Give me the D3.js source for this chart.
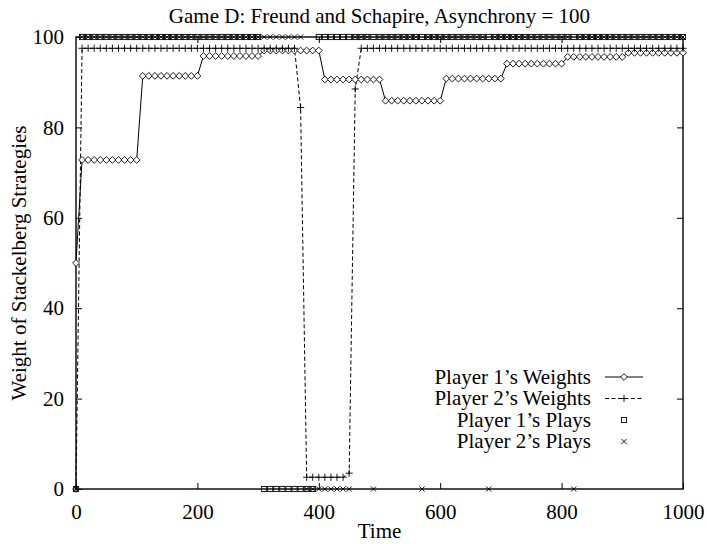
<!DOCTYPE html>
<html>
<head>
<meta charset="utf-8">
<script src="https://cdn.jsdelivr.net/npm/d3@7"></script>
<style>
  @font-face { font-family: "ChartSerif"; src: local("Liberation Serif"), local("LiberationSerif"), local("LiberationSerif-Regular"); }
  body { margin: 0; background: #fff; }
  svg { display: block; }
</style>
</head>
<body>
<svg id="chart" width="707" height="544"></svg>
<script>
// Time steps (sampled every 10 steps)
const times = [
  0, 10, 20, 30, 40, 50, 60, 70, 80, 90,
  100, 110, 120, 130, 140, 150, 160, 170, 180, 190,
  200, 210, 220, 230, 240, 250, 260, 270, 280, 290,
  300, 310, 320, 330, 340, 350, 360, 370, 380, 390,
  400, 410, 420, 430, 440, 450, 460, 470, 480, 490,
  500, 510, 520, 530, 540, 550, 560, 570, 580, 590,
  600, 610, 620, 630, 640, 650, 660, 670, 680, 690,
  700, 710, 720, 730, 740, 750, 760, 770, 780, 790,
  800, 810, 820, 830, 840, 850, 860, 870, 880, 890,
  900, 910, 920, 930, 940, 950, 960, 970, 980, 990,
  1000
];

// Player 1's weight on its Stackelberg strategy (%)
const p1Weights = [
  50,
  72.8, 72.8, 72.8, 72.8, 72.8, 72.8, 72.8, 72.8, 72.8, 72.8,
  91.4, 91.4, 91.4, 91.4, 91.4, 91.4, 91.4, 91.4, 91.4, 91.4,
  95.8, 95.8, 95.8, 95.8, 95.8, 95.8, 95.8, 95.8, 95.8, 95.8,
  97.0, 97.0, 97.0, 97.0, 97.0, 97.0, 97.0, 97.0, 97.0, 97.0,
  90.6, 90.6, 90.6, 90.6, 90.6, 90.6, 90.6, 90.6, 90.6, 90.6,
  85.9, 85.9, 85.9, 85.9, 85.9, 85.9, 85.9, 85.9, 85.9, 85.9,
  90.8, 90.8, 90.8, 90.8, 90.8, 90.8, 90.8, 90.8, 90.8, 90.8,
  94.1, 94.1, 94.1, 94.1, 94.1, 94.1, 94.1, 94.1, 94.1, 94.1,
  95.6, 95.6, 95.6, 95.6, 95.6, 95.6, 95.6, 95.6, 95.6, 95.6,
  96.5, 96.5, 96.5, 96.5, 96.5, 96.5, 96.5, 96.5, 96.5, 96.5
];

// Player 2's weight on its Stackelberg strategy (%)
const p2Weights = [
  0,
  97.5, 97.5, 97.5, 97.5, 97.5, 97.5, 97.5, 97.5, 97.5, 97.5,
  97.5, 97.5, 97.5, 97.5, 97.5, 97.5, 97.5, 97.5, 97.5, 97.5,
  97.5, 97.5, 97.5, 97.5, 97.5, 97.5, 97.5, 97.5, 97.5, 97.5,
  97.5, 97.5, 97.5, 97.5, 97.5, 97.5, 84.4, 2.6, 2.6, 2.6,
  2.6, 2.6, 2.6, 2.6, 3.5, 88.5, 97.5, 97.5, 97.5, 97.5,
  97.5, 97.5, 97.5, 97.5, 97.5, 97.5, 97.5, 97.5, 97.5, 97.5,
  97.5, 97.5, 97.5, 97.5, 97.5, 97.5, 97.5, 97.5, 97.5, 97.5,
  97.5, 97.5, 97.5, 97.5, 97.5, 97.5, 97.5, 97.5, 97.5, 97.5,
  97.5, 97.5, 97.5, 97.5, 97.5, 97.5, 97.5, 97.5, 97.5, 97.5,
  97.5, 97.5, 97.5, 97.5, 97.5, 97.5, 97.5, 97.5, 97.5, 97.5
];

// Whether each player played its Stackelberg strategy (100 = yes, 0 = no)
const p1Plays = [
  0,
  100, 100, 100, 100, 100, 100, 100, 100, 100, 100,
  100, 100, 100, 100, 100, 100, 100, 100, 100, 100,
  100, 100, 100, 100, 100, 100, 100, 100, 100, 100,
  0, 0, 0, 0, 0, 0, 0, 0, 0, 100,
  100, 100, 100, 100, 100, 100, 100, 100, 100, 100,
  100, 100, 100, 100, 100, 100, 100, 100, 100, 100,
  100, 100, 100, 100, 100, 100, 100, 100, 100, 100,
  100, 100, 100, 100, 100, 100, 100, 100, 100, 100,
  100, 100, 100, 100, 100, 100, 100, 100, 100, 100,
  100, 100, 100, 100, 100, 100, 100, 100, 100, 100
];

const p2Plays = [
  0,
  100, 100, 100, 100, 100, 100, 100, 100, 100, 100,
  100, 100, 100, 100, 100, 100, 100, 100, 100, 100,
  100, 100, 100, 100, 100, 100, 100, 100, 100, 100,
  100, 100, 100, 100, 100, 100, 100, 0, 0, 0,
  0, 0, 0, 0, 0, 100, 100, 100, 0, 100,
  100, 100, 100, 100, 100, 100, 0, 100, 100, 100,
  100, 100, 100, 100, 100, 100, 100, 0, 100, 100,
  100, 100, 100, 100, 100, 100, 100, 100, 100, 100,
  100, 0, 100, 100, 100, 100, 100, 100, 100, 100,
  100, 100, 100, 100, 100, 100, 100, 100, 100, 100
];

const xTicks = [0, 200, 400, 600, 800, 1000];
const yTicks = [0, 20, 40, 60, 80, 100];
const seriesNames = ["Player 1\u2019s Weights", "Player 2\u2019s Weights", "Player 1\u2019s Plays", "Player 2\u2019s Plays"];

const FONT = '"Liberation Serif", "ChartSerif", "Times New Roman", serif';
const FS = 21;
const svg = d3.select("#chart");
const m = { left: 76, right: 683, top: 37, bottom: 489 };

const x = d3.scaleLinear().domain([0, 1000]).range([m.left, m.right]);
const y = d3.scaleLinear().domain([0, 100]).range([m.bottom, m.top]);

function styleText(sel) {
  return sel.style("font-family", FONT).style("font-size", FS + "px").style("fill", "#000");
}

// Marker shapes
function diamond(g, cx, cy) {
  const r = 3.4;
  g.append("path").attr("d", `M${cx},${cy - r}L${cx + r},${cy}L${cx},${cy + r}L${cx - r},${cy}Z`)
    .attr("fill", "#fff").attr("stroke", "#000").attr("stroke-width", 0.9);
}
function plus(g, cx, cy) {
  const r = 3.6;
  g.append("path").attr("d", `M${cx - r},${cy}H${cx + r}M${cx},${cy - r}V${cy + r}`)
    .attr("fill", "none").attr("stroke", "#000").attr("stroke-width", 0.9);
}
function square(g, cx, cy) {
  const r = 2.6;
  g.append("rect").attr("x", cx - r).attr("y", cy - r).attr("width", 2 * r).attr("height", 2 * r)
    .attr("fill", "none").attr("stroke", "#000").attr("stroke-width", 0.9);
}
function cross(g, cx, cy) {
  const r = 2.6;
  g.append("path").attr("d", `M${cx - r},${cy - r}L${cx + r},${cy + r}M${cx - r},${cy + r}L${cx + r},${cy - r}`)
    .attr("fill", "none").attr("stroke", "#000").attr("stroke-width", 0.9);
}

// Axes: inward ticks on all four sides
const axisG = svg.append("g");
axisG.append("g").attr("transform", `translate(0,${m.bottom})`)
  .call(d3.axisBottom(x).tickValues(xTicks).tickFormat(d3.format("d"))
    .tickSizeInner(-6).tickSizeOuter(0).tickPadding(15))
  .call(g => g.select(".domain").remove());
axisG.append("g").attr("transform", `translate(0,${m.top})`)
  .call(d3.axisTop(x).tickValues(xTicks.slice(1, -1)).tickSizeInner(-6).tickSizeOuter(0).tickFormat(""))
  .call(g => g.select(".domain").remove());
axisG.append("g").attr("transform", `translate(${m.left},0)`)
  .call(d3.axisLeft(y).tickValues(yTicks).tickFormat(d3.format("d"))
    .tickSizeInner(-6).tickSizeOuter(0).tickPadding(12))
  .call(g => g.select(".domain").remove());
axisG.append("g").attr("transform", `translate(${m.right},0)`)
  .call(d3.axisRight(y).tickValues(yTicks.slice(1, -1)).tickSizeInner(-6).tickSizeOuter(0).tickFormat(""))
  .call(g => g.select(".domain").remove());
axisG.selectAll("g").attr("font-family", null).attr("font-size", null);
styleText(axisG.selectAll("text"));
axisG.selectAll(".tick line").attr("stroke", "#000");

// Plot border
svg.append("rect")
  .attr("x", m.left).attr("y", m.top)
  .attr("width", m.right - m.left).attr("height", m.bottom - m.top)
  .attr("fill", "none").attr("stroke", "#000").attr("stroke-width", 1.4);

// Weight curves
const line = d3.line().x(d => x(d[0])).y(d => y(d[1]));
const p1Pts = times.map((t, i) => [t, p1Weights[i]]);
const p2Pts = times.map((t, i) => [t, p2Weights[i]]);

svg.append("path").datum(p1Pts).attr("d", line)
  .attr("fill", "none").attr("stroke", "#000").attr("stroke-width", 1);
svg.append("path").datum(p2Pts).attr("d", line)
  .attr("fill", "none").attr("stroke", "#000").attr("stroke-width", 1)
  .attr("stroke-dasharray", "4,2.5");

const marks = svg.append("g");
p1Pts.forEach(d => diamond(marks, x(d[0]), y(d[1])));
p2Pts.forEach(d => plus(marks, x(d[0]), y(d[1])));
times.forEach((t, i) => square(marks, x(t), y(p1Plays[i])));
times.forEach((t, i) => cross(marks, x(t), y(p2Plays[i])));

// Titles
styleText(svg.append("text").attr("x", (m.left + m.right) / 2).attr("y", 23)
  .attr("text-anchor", "middle"))
  .text("Game D: Freund and Schapire, Asynchrony = 100");
styleText(svg.append("text").attr("x", (m.left + m.right) / 2).attr("y", 538)
  .attr("text-anchor", "middle")).text("Time");
styleText(svg.append("text")
  .attr("transform", `translate(26,${(m.top + m.bottom) / 2}) rotate(-90)`)
  .attr("text-anchor", "middle"))
  .text("Weight of Stackelberg Strategies");

// Legend
const legend = svg.append("g");
const rowY = [377, 398.5, 420, 441.5];
const sx0 = 605, sx1 = 643, sxm = 624;
seriesNames.forEach((name, i) => {
  styleText(legend.append("text").attr("x", 591).attr("y", rowY[i]).attr("dy", "0.32em")
    .attr("text-anchor", "end")).text(name);
});
legend.append("line").attr("x1", sx0).attr("x2", sx1).attr("y1", rowY[0]).attr("y2", rowY[0])
  .attr("stroke", "#000").attr("stroke-width", 1);
diamond(legend, sxm, rowY[0]);
legend.append("line").attr("x1", sx0).attr("x2", sx1).attr("y1", rowY[1]).attr("y2", rowY[1])
  .attr("stroke", "#000").attr("stroke-width", 1).attr("stroke-dasharray", "4,2.5");
plus(legend, sxm, rowY[1]);
square(legend, sxm, rowY[2]);
cross(legend, sxm, rowY[3]);

// Force text layout so the requested fonts are resolved before the page is captured
svg.selectAll("text").each(function () { this.getComputedTextLength(); });
</script>
</body>
</html>
